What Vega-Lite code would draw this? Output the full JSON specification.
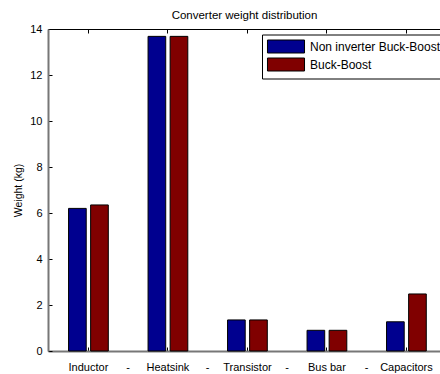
{
  "$schema": "https://vega.github.io/schema/vega-lite/v6.json",
  "autosize": "none",
  "width": 392,
  "height": 322,
  "padding": {"left": 48, "top": 29, "right": 0, "bottom": 23},
  "background": "white",
  "config": {
    "font": "Liberation Sans",
    "view": {"stroke": null},
    "axis": {"labelFont": "Liberation Sans", "labelFontSize": 11, "labelColor": "black", "titleFont": "Liberation Sans", "titleFontSize": 11, "titleFontWeight": "normal", "titleColor": "black", "grid": false}
  },
  "data": {
    "values": [
      {"component": "Inductor", "series": "Non inverter Buck-Boost", "weight": 6.2},
      {"component": "Inductor", "series": "Buck-Boost", "weight": 6.35},
      {"component": "Heatsink", "series": "Non inverter Buck-Boost", "weight": 13.68},
      {"component": "Heatsink", "series": "Buck-Boost", "weight": 13.68},
      {"component": "Transistor", "series": "Non inverter Buck-Boost", "weight": 1.35},
      {"component": "Transistor", "series": "Buck-Boost", "weight": 1.35},
      {"component": "Bus bar", "series": "Non inverter Buck-Boost", "weight": 0.9},
      {"component": "Bus bar", "series": "Buck-Boost", "weight": 0.9},
      {"component": "Capacitors", "series": "Non inverter Buck-Boost", "weight": 1.27},
      {"component": "Capacitors", "series": "Buck-Boost", "weight": 2.48}
    ]
  },
  "layer": [
    {
      "mark": {"type": "bar", "stroke": "black", "strokeWidth": 1},
      "encoding": {
        "x": {
          "field": "component", "type": "nominal", "sort": null,
          "scale": {"domain": ["Inductor", "-1", "Heatsink", "-2", "Transistor", "-3", "Bus bar", "-4", "Capacitors"], "paddingInner": 0, "paddingOuter": 0.431, "align": 0.6},
          "axis": {
            "orient": "bottom", "title": null, "labelAngle": 0,
            "labelExpr": "indexof(datum.value, '-') == 0 ? '-' : datum.value",
            "domainColor": "#777777", "domainWidth": 2,
            "tickSize": -4, "tickColor": {"condition": {"test": "indexof(datum.value, '-') == 0", "value": "transparent"}, "value": "black"},
            "labelPadding": 14
          }
        },
        "xOffset": {"field": "series", "type": "nominal", "sort": ["Non inverter Buck-Boost", "Buck-Boost"], "scale": {"paddingInner": 0.2, "paddingOuter": 0}},
        "y": {
          "field": "weight", "type": "quantitative",
          "scale": {"domain": [0, 14], "nice": false},
          "axis": {"title": "Weight (kg)", "titleFontSize": 10.5, "values": [0, 2, 4, 6, 8, 10, 12, 14], "tickSize": -4, "tickColor": "black", "labelPadding": 10, "domainColor": "#777777", "domainWidth": 2, "titlePadding": 6, "labelFlush": false}
        },
        "color": {
          "field": "series", "type": "nominal",
          "scale": {"domain": ["Non inverter Buck-Boost", "Buck-Boost"], "range": ["#00008f", "#800000"]},
          "legend": {
            "title": null, "orient": "none", "legendX": 214, "legendY": 5.5,
            "symbolType": "M-2.85,-1L2.85,-1L2.85,1L-2.85,1Z", "symbolSize": 169,
            "symbolStrokeColor": "black", "symbolStrokeWidth": 1, "symbolOpacity": 1,
            "symbolOffset": 12, "labelOffset": 17,
            "labelFont": "Liberation Sans", "labelFontSize": 12, "labelColor": "black",
            "strokeColor": "black", "fillColor": "white", "padding": 5, "rowPadding": 0, "cornerRadius": 0
          }
        }
      }
    },
    {
      "mark": {"type": "bar", "opacity": 0},
      "encoding": {
        "x": {
          "field": "component", "type": "nominal", "sort": null,
          "axis": {"orient": "top", "title": "Converter weight distribution", "titleFontSize": 11.5, "titlePadding": 8, "labels": false, "domainColor": "black", "domainWidth": 1, "tickSize": -4, "tickColor": {"condition": {"test": "indexof(datum.value, '-') == 0", "value": "transparent"}, "value": "black"}}
        },
        "y": {"field": "weight", "type": "quantitative"}
      }
    }
  ],
  "resolve": {"axis": {"x": "independent"}}
}
